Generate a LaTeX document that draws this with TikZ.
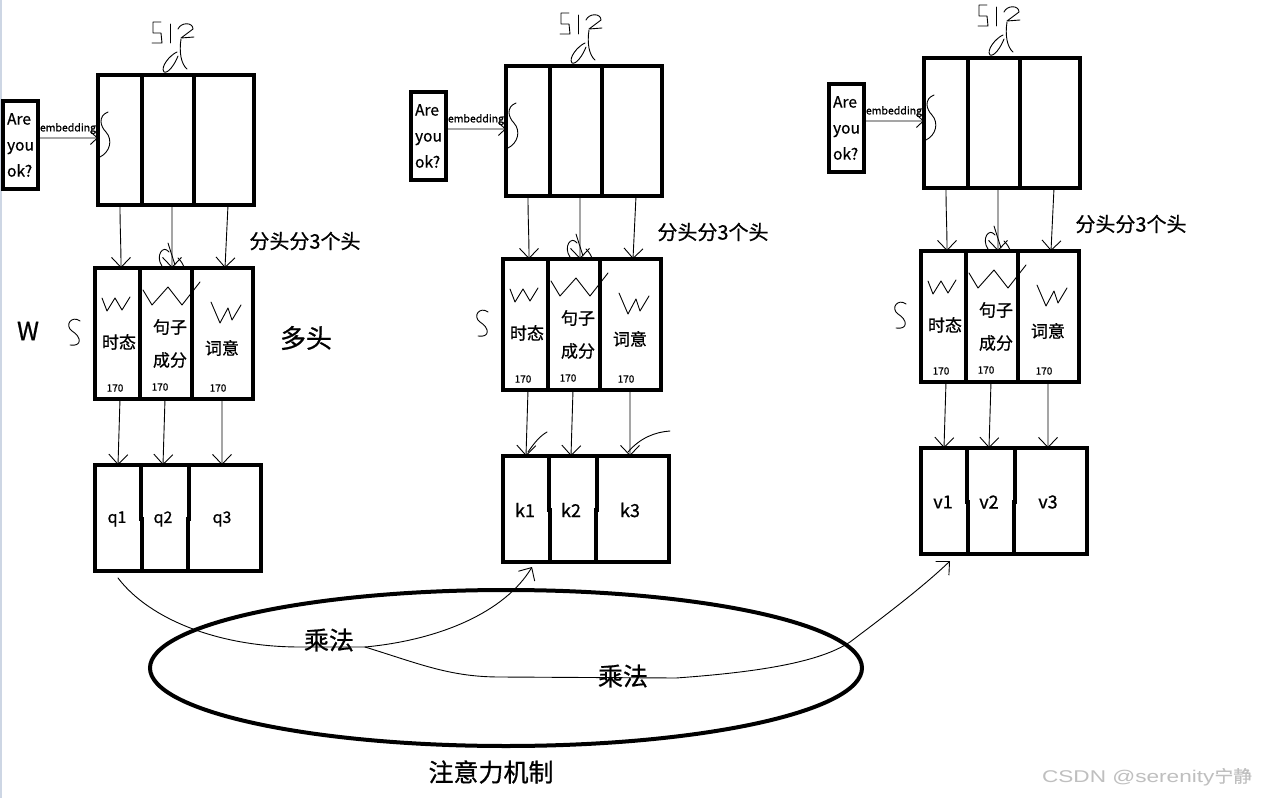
\documentclass[tikz,border=0pt]{standalone}
\usepackage{fontspec}
\setmainfont{Noto Sans CJK SC}[FakeBold=0.7]
\newfontfamily\wmfont{Liberation Sans}
\usetikzlibrary{arrows.meta,calc}
\newcommand\fsz[2]{\fontsize{#1bp}{#2bp}\selectfont}
\tikzset{
  box/.style={draw, line width=4bp, inner sep=0pt, outer sep=0pt},
  div/.style={line width=4bp},
  ink/.style={line width=0.9bp, line cap=round, line join=round},
  harrow/.style={ink, -{Straight Barb[length=10bp,width=19bp,line width=0.9bp]}},
  lbl/.style={inner sep=0pt},
}
\newcommand\drawunit[5]{%
\begin{scope}[shift={(#2,#3)}]
  % input sentence
  \node[box, minimum width=35bp, minimum height=88bp, align=left, font=\fsz{15.5}{26}] (#1in) at (20.5,145) {Are\\you\\ok?};
  % 512 d box
  \node[box, minimum width=156bp, minimum height=130bp] (#1T) at (176,140) {};
  \draw[div] (142,75) -- (142,205);
  \draw[div] (194,75) -- (194,205);
  \draw[ink, -{Straight Barb[length=7bp,width=13bp,line width=0.9bp]}] ([yshift=7bp]#1in.east) -- node[lbl, above=3.5bp, font=\fsz{10.5}{12}] (#1emb) {embedding} ([yshift=2bp]#1T.west);
  % handwriting 512 d
  \draw[ink] (161,22)--(153,22)--(153,33)--(161,33)--(162,43)--(152,43);
  \draw[ink] (170,24)--(170,43);
  \draw[ink] (178,29) .. controls (181,22) and (193,22) .. (193,29) -- (181,38) -- (194,37);
  \draw[ink] (181,39) .. controls (179,52) and (181,64) .. (187,69);
  \draw[ink] (177,52) .. controls (170,55) and (160,67) .. (164,72) .. controls (168,74) and (175,64) .. (178,56);
  % S inside
  \draw[ink] (108,112) .. controls (98,116) and (100,126) .. (106,132) .. controls (113,140) and (110,152) .. (100,157);
  % heads box
  \node[box, minimum width=158bp, minimum height=131bp] (#1H) at (174,333.5) {};
  \draw[div] (140,268) -- (140,399);
  \draw[div] (192,268) -- (192,399);
  \draw[ink] (102,298)--(107,311)--(115,298)--(122,310)--(130,297);
  \draw[ink] (143,290)--(152,305)--(168,287)--(182,305)--(200,282);
  \draw[ink] (211,302)--(220,323)--(228,308)--(232,320)--(241,305);
  \node[lbl, font=\fsz{17}{20}] (#1h1) at (119,342) {时态};
  \node[lbl, font=\fsz{17}{20}] (#1h2a) at (170,327) {句子};
  \node[lbl, font=\fsz{17}{20}] (#1h2b) at (170,360) {成分};
  \node[lbl, font=\fsz{17}{20}] (#1h3) at (222,348) {词意};
  \node[lbl, font=\fsz{10}{12}] (#1n1) at (115,388) {170};
  \node[lbl, font=\fsz{10}{12}] (#1n2) at (160,387) {170};
  \node[lbl, font=\fsz{10}{12}] (#1n3) at (218,388) {170};
  % arrows top -> heads
  \draw[harrow] ([xshift=22bp]#1T.south west) .. controls +(0,-25bp) and +(0,25bp) .. ([xshift=26bp]#1H.north west);
  \draw[harrow] ([xshift=74bp]#1T.south west) -- ([xshift=77bp]#1H.north west);
  \draw[harrow] ([xshift=130bp]#1T.south west) -- ([xshift=130bp]#1H.north west);
  \draw[ink] (162,266) .. controls (155,256) and (163,244) .. (169,252);
  \draw[ink] (168,243) -- (175,265);
  \draw[ink] (178,258) .. controls (182,262) and (184,266) .. (184,268);
  % lower box
  \node[box, minimum width=166bp, minimum height=106bp] (#1Q) at (178,518) {};
  \draw[div] (141,465) -- (141,519) -- (142,519) -- (142,573);
  \draw[div] (189,465) -- (189,519) -- (188,519) -- (188,571);
  \node[lbl, font=\fsz{#5}{20}] (#1q1) at (117,519) {#41};
  \node[lbl, font=\fsz{#5}{20}] (#1q2) at (163,519) {#42};
  \node[lbl, font=\fsz{#5}{20}] (#1q3) at (222,519) {#43};
  % arrows heads -> lower
  \draw[harrow] ([xshift=25bp]#1H.south west) -- ([xshift=23bp]#1Q.north west);
  \draw[harrow] ([xshift=70bp]#1H.south west) -- ([xshift=68bp]#1Q.north west);
  \draw[harrow] ([xshift=127bp]#1H.south west) -- ([xshift=127bp]#1Q.north west);
  % side labels
  \node[lbl, font=\fsz{20}{22}] (#1split) at (305,241) {分头分3个头};
  \draw[ink] (80,321) .. controls (72,315) and (64,325) .. (72,331) .. controls (82,337) and (82,347) .. (70,345);
\end{scope}}

\begin{document}
\begin{tikzpicture}[x=1bp, y=-1bp]
\useasboundingbox (0,0) rectangle (1261,798);
\fill[white] (0,0) rectangle (1261,798);
\fill[color={rgb,255:red,205;green,214;blue,228}] (0,0) rectangle (2,798);

\drawunit{L}{0}{0}{q}{16}
\drawunit{M}{408}{-9}{k}{18}
\drawunit{R}{826}{-17}{v}{18}

\node[lbl, font=\fsz{25}{28}] (W) at (28,331) {W};
\node[lbl, font=\fsz{26}{28}] (multi) at (306,338) {多头};

% extra strokes near k arrows
\draw[ink] (528,452) .. controls (535,442) and (540,436) .. (547,432);
\draw[ink] (628,452) .. controls (640,438) and (655,432) .. (670,431);

% attention ellipse
\draw[line width=4bp] (506,668) ellipse [x radius=356, y radius=78];
\node[lbl, font=\fsz{25}{28}] (mul1) at (329,640) {乘法};
\node[lbl, font=\fsz{25}{28}] (mul2) at (623,676) {乘法};
\node[lbl, font=\fsz{25}{28}] (att) at (491,772) {注意力机制};

\coordinate (qs) at ([xshift=23bp,yshift=-7bp]LQ.south west);
\coordinate (ke) at ([xshift=29bp,yshift=-5bp]MQ.south west);
\coordinate (ve) at ([xshift=29bp,yshift=-7bp]RQ.south west);
\coordinate (j) at (365,647);
\draw[ink] (qs) .. controls (150,620) and (220,647) .. (300,647) -- (j);
\draw[harrow] (j) .. controls (440,640) and (505,612) .. (ke);
\draw[harrow] (j) .. controls (420,664) and (450,677) .. (500,677) -- (676,678) .. controls (760,672) and (820,662) .. (850,642) .. controls (890,612) and (925,585) .. (ve);

% watermark
\node[lbl, text=black!25, font=\fsz{17}{20}] (wm) at (1147,777) {\scalebox{1.33}[1]{\wmfont CSDN @serenity}\scalebox{1.1}[1]{宁静}};
\end{tikzpicture}
\end{document}
